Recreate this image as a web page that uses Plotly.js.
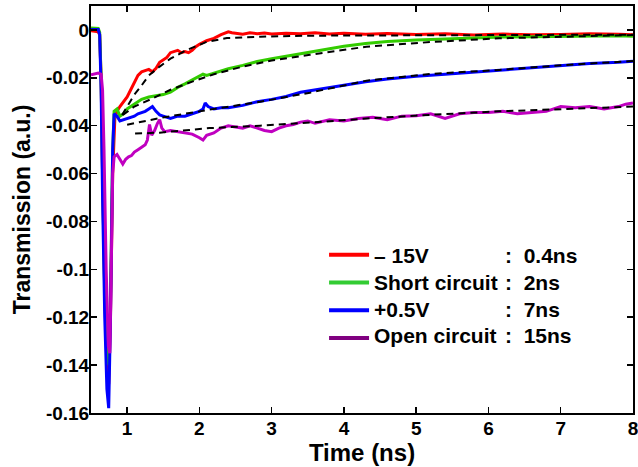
<!DOCTYPE html>
<html><head><meta charset="utf-8">
<script src="https://cdn.plot.ly/plotly-3.0.1.min.js"></script>
<style>html,body{margin:0;padding:0;background:#fff}#chart{width:638px;height:467px}</style>
</head><body><div id="chart"></div>
<script>
const seriesNames = ["\u2013 15V", "Short circuit", "+0.5V", "Open circuit"];
const lifetimes = ["0.4ns", "2ns", "7ns", "15ns"];

const redX = [0.5,0.55,0.6,0.62,0.64,0.66,0.69,0.72,0.745,0.77,0.80,0.83,0.86,0.9,0.95,1.0,1.05,1.1,1.15,1.2,1.25,1.3,1.35,1.4,1.45,1.5,1.55,1.6,1.65,1.7,1.75,1.8,1.85,1.9,1.95,2.0,2.1,2.2,2.3,2.4,2.45,2.5,2.6,2.7,2.8,2.9,3.0,3.2,3.4,3.6,3.8,4.0,4.3,4.6,5.0,5.4,5.8,6.2,6.6,7.0,7.4,7.8,8.0];
const redY = [-0.0003,-0.0005,-0.0008,-0.002,-0.02,-0.06,-0.11,-0.14,-0.148,-0.12,-0.06,-0.037,-0.034,-0.032,-0.03,-0.028,-0.025,-0.022,-0.019,-0.0175,-0.017,-0.0165,-0.0175,-0.016,-0.0135,-0.0125,-0.0115,-0.0095,-0.009,-0.0085,-0.0095,-0.009,-0.0095,-0.0085,-0.007,-0.006,-0.0045,-0.0035,-0.002,-0.0008,-0.0012,-0.0015,-0.0018,-0.0012,-0.0016,-0.0013,-0.0017,-0.0014,-0.0016,-0.0012,-0.0017,-0.0014,-0.0018,-0.0015,-0.0019,-0.0016,-0.0021,-0.0017,-0.002,-0.0019,-0.0016,-0.0018,-0.002];

const greenX = [0.5,0.6,0.62,0.64,0.66,0.69,0.72,0.745,0.77,0.80,0.82,0.86,0.9,0.95,1.0,1.1,1.2,1.3,1.4,1.5,1.6,1.7,1.8,1.9,2.0,2.05,2.1,2.2,2.3,2.4,2.6,2.8,3.0,3.2,3.4,3.6,3.8,4.0,4.3,4.6,5.0,5.4,5.8,6.2,6.6,7.0,7.4,7.8,8.0];
const greenY = [0.0008,0.0006,-0.001,-0.02,-0.06,-0.11,-0.135,-0.14,-0.11,-0.05,-0.034,-0.033,-0.036,-0.035,-0.033,-0.031,-0.029,-0.028,-0.0275,-0.027,-0.026,-0.024,-0.0225,-0.021,-0.0195,-0.0185,-0.019,-0.018,-0.017,-0.0162,-0.0148,-0.0132,-0.012,-0.011,-0.0098,-0.0088,-0.0078,-0.0068,-0.0057,-0.0048,-0.0042,-0.0037,-0.0033,-0.003,-0.0028,-0.0026,-0.0025,-0.0024,-0.0026];

const blueX = [0.5,0.6,0.62,0.64,0.66,0.69,0.72,0.745,0.77,0.80,0.82,0.86,0.9,0.95,1.0,1.05,1.1,1.15,1.2,1.25,1.3,1.35,1.4,1.45,1.5,1.6,1.7,1.8,1.9,2.0,2.05,2.08,2.12,2.2,2.3,2.4,2.6,2.8,3.0,3.2,3.4,3.6,3.8,4.0,4.3,4.6,5.0,5.4,5.8,6.2,6.6,7.0,7.4,7.8,8.0];
const blueY = [0.0002,0.0002,-0.002,-0.025,-0.07,-0.12,-0.15,-0.158,-0.12,-0.05,-0.035,-0.036,-0.038,-0.0375,-0.037,-0.0365,-0.036,-0.035,-0.0345,-0.034,-0.033,-0.032,-0.034,-0.0355,-0.036,-0.037,-0.036,-0.036,-0.035,-0.034,-0.033,-0.0305,-0.032,-0.033,-0.0325,-0.0325,-0.0315,-0.030,-0.029,-0.0278,-0.026,-0.025,-0.0243,-0.023,-0.0216,-0.0205,-0.0193,-0.0185,-0.0176,-0.0166,-0.016,-0.0148,-0.014,-0.0135,-0.0131];

const magX = [0.5,0.6,0.64,0.66,0.68,0.71,0.74,0.76,0.78,0.80,0.82,0.86,0.9,0.94,0.98,1.02,1.06,1.1,1.15,1.2,1.25,1.28,1.31,1.34,1.38,1.42,1.45,1.48,1.52,1.6,1.7,1.8,1.9,2.0,2.05,2.1,2.2,2.3,2.4,2.5,2.6,2.7,2.8,2.9,3.0,3.1,3.2,3.3,3.4,3.5,3.6,3.8,4.0,4.2,4.4,4.6,4.8,5.0,5.2,5.4,5.6,5.8,6.0,6.2,6.4,6.6,6.8,7.0,7.2,7.4,7.6,7.8,7.9,8.0];
const magY = [-0.0187,-0.018,-0.0185,-0.025,-0.05,-0.1,-0.132,-0.135,-0.1,-0.06,-0.053,-0.052,-0.054,-0.056,-0.054,-0.053,-0.0525,-0.051,-0.05,-0.049,-0.048,-0.046,-0.0395,-0.044,-0.042,-0.039,-0.0375,-0.041,-0.0425,-0.042,-0.0425,-0.043,-0.0435,-0.045,-0.046,-0.044,-0.043,-0.041,-0.040,-0.0405,-0.041,-0.040,-0.041,-0.042,-0.0425,-0.041,-0.040,-0.0395,-0.0385,-0.038,-0.039,-0.0375,-0.038,-0.037,-0.0365,-0.0375,-0.036,-0.0358,-0.035,-0.037,-0.035,-0.0345,-0.0345,-0.034,-0.035,-0.0345,-0.034,-0.032,-0.0325,-0.032,-0.033,-0.032,-0.031,-0.0305];

const fitRedX = [0.93,1.0,1.1,1.18,1.3,1.45,1.6,1.83,2.1,2.38,2.84,3.5,4.5,5.5,6.5,7.5,8.0];
const fitRedY = [-0.0355,-0.032,-0.027,-0.024,-0.019,-0.0153,-0.012,-0.0083,-0.005,-0.0034,-0.0028,-0.0024,-0.0022,-0.0021,-0.0021,-0.002,-0.002];
const fitGreenX = [0.94,1.1,1.36,1.6,1.91,2.2,2.6,3.0,3.53,4.31,5.23,6.15,7.08,8.0];
const fitGreenY = [-0.0355,-0.032,-0.0285,-0.025,-0.0215,-0.0185,-0.0153,-0.0128,-0.0104,-0.007,-0.005,-0.0035,-0.0028,-0.0021];
const fitBlueX = [1.0,1.45,2.14,2.84,3.53,4.31,5.23,6.15,7.08,8.0];
const fitBlueY = [-0.0396,-0.0368,-0.0333,-0.030,-0.0262,-0.0212,-0.0183,-0.0167,-0.0146,-0.013];
const fitMagX = [1.11,1.45,2.14,2.84,3.53,4.31,5.23,6.15,7.08,8.0];
const fitMagY = [-0.0433,-0.0429,-0.041,-0.040,-0.0387,-0.037,-0.0354,-0.034,-0.033,-0.032];

const xTickVals = [1,2,3,4,5,6,7,8];
const xTickText = ["1","2","3","4","5","6","7","8"];
const yTickVals = [-0.16,-0.14,-0.12,-0.1,-0.08,-0.06,-0.04,-0.02,0];
const yTickText = ["-0.16","-0.14","-0.12","-0.1","-0.08","-0.06","-0.04","-0.02","0"];

const curveColors = ["#ff0000","#33cc00","#0000ff","#c000c0"];
const legendColors = ["#ff0000","#33cc33","#0000ff","#800080"];

const curves = [[redX,redY],[greenX,greenY],[blueX,blueY],[magX,magY]];
const fits = [[fitRedX,fitRedY],[fitGreenX,fitGreenY],[fitBlueX,fitBlueY],[fitMagX,fitMagY]];

const traces = [];
curves.forEach((c,i)=>traces.push({x:c[0],y:c[1],mode:"lines",type:"scatter",showlegend:false,
  line:{color:curveColors[i],width:3}}));
fits.forEach((c,i)=>traces.push({x:c[0],y:c[1],mode:"lines",type:"scatter",showlegend:false,
  line:{color:"#000",width:2,dash:"7px,5px"}}));
seriesNames.forEach((n,i)=>traces.push({x:[null],y:[null],mode:"lines",type:"scatter",name:"\u00a0",
  line:{color:legendColors[i],width:4}}));

const fnt = {family:"Liberation Sans, Arial, sans-serif", color:"#000", weight:"bold"};
const rowsY = [0.386,0.320,0.254,0.190];
const annotations = [];
seriesNames.forEach((n,i)=>{
  annotations.push({xref:"paper",yref:"paper",x:0.5185,y:rowsY[i],xanchor:"left",yanchor:"middle",
    text:n,showarrow:false,font:Object.assign({size:21},fnt)});
  annotations.push({xref:"paper",yref:"paper",x:0.760,y:rowsY[i],xanchor:"left",yanchor:"middle",
    text:":\u00a0\u00a0"+lifetimes[i],showarrow:false,font:Object.assign({size:21},fnt)});
});

const layout = {
  width:638,height:467,margin:{l:91,r:5,t:6,b:54},
  paper_bgcolor:"#fff",plot_bgcolor:"#fff",
  font:Object.assign({size:19},fnt),
  xaxis:{range:[0.5,8.0005],tickvals:xTickVals,ticktext:xTickText,ticks:"inside",ticklen:6,tickwidth:1.5,tickcolor:"#000",
    showline:true,linewidth:2,linecolor:"#000",mirror:"ticks",showgrid:false,zeroline:false,ticklabeloverflow:"allow",
    ticklabelstandoff:-3,
    tickfont:Object.assign({size:19},fnt),
    title:{text:"Time (ns)",font:Object.assign({size:24},fnt),standoff:1}},
  yaxis:{range:[-0.16,0.01],tickvals:yTickVals,ticktext:yTickText,ticks:"inside",ticklen:6,tickwidth:1.5,tickcolor:"#000",
    showline:true,linewidth:2,linecolor:"#000",mirror:"ticks",showgrid:false,zeroline:false,
    ticklabelstandoff:-4,
    tickfont:Object.assign({size:19},fnt),
    title:{text:"Transmission (a.u.)",font:Object.assign({size:23},fnt),standoff:9}},
  legend:{x:0.43,y:0.435,xanchor:"left",yanchor:"top",bgcolor:"rgba(0,0,0,0)",borderwidth:0,
    font:Object.assign({size:19},fnt),tracegroupgap:0,itemwidth:40},
  annotations:annotations,
  showlegend:true
};
Plotly.newPlot("chart",traces,layout,{staticPlot:true,displayModeBar:false});
</script></body></html>
